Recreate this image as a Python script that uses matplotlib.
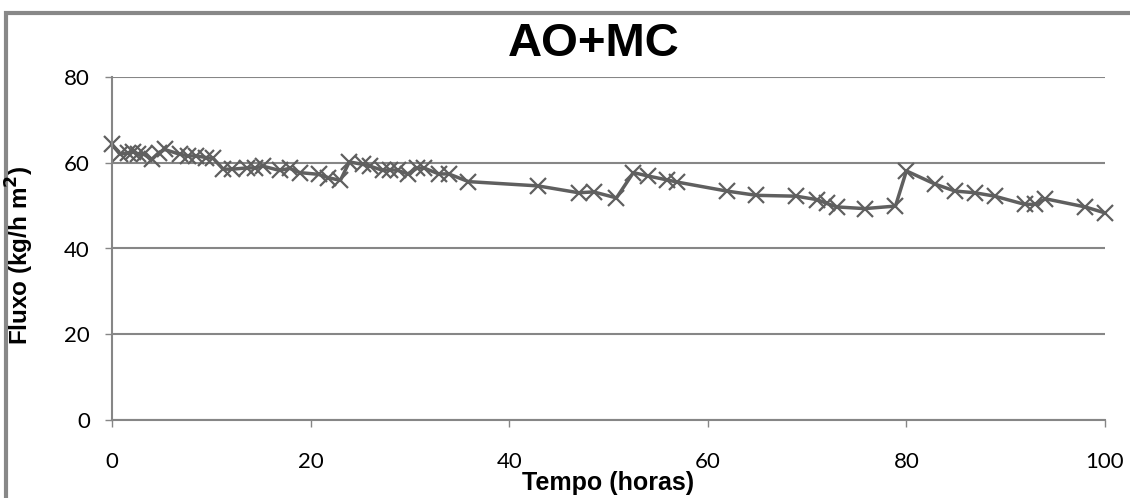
import numpy as np
import matplotlib
matplotlib.use('Agg')
import matplotlib.pyplot as plt
from matplotlib.patches import Rectangle

# tempo (horas) e fluxo (kg/h m2)
tempo = [0, 0.8, 1.6, 2.1, 2.6, 3.2, 4, 4.7, 5.3, 6.8,
         7.7, 8.5, 9.5, 10.2, 11.2, 12.1, 13.6, 14.4, 15.2, 16.9,
         17.9, 18.9, 20.8, 21.8, 23, 23.9, 25.3, 26, 27.3, 28,
         28.8, 29.8, 30.7, 31.4, 32.9, 33.9, 35.9, 42.9, 47, 48.5,
         50.8, 52.5, 54, 55.9, 56.9, 61.9, 64.9, 68.9, 71, 72,
         73, 75.8, 78.9, 80, 82.9, 84.9, 86.9, 88.9, 91.9, 93,
         94, 98, 100]
fluxo = [64.3, 62.0, 62.3, 62.6, 62.1, 62.0, 60.8, 62.3, 63.1, 62.0,
         61.6, 61.6, 61.2, 61.0, 58.5, 58.5, 58.8, 58.8, 59.2, 58.2,
         58.7, 57.7, 57.3, 56.5, 55.9, 60.2, 59.6, 59.2, 58.2, 58.4,
         58.2, 57.4, 58.7, 58.8, 57.4, 57.4, 55.6, 54.6, 53.0, 53.2,
         51.8, 57.7, 56.9, 56.0, 55.5, 53.4, 52.4, 52.2, 51.4, 50.5,
         49.7, 49.3, 49.9, 58.1, 55.0, 53.4, 53.0, 52.2, 50.3, 50.3,
         51.6, 49.7, 48.3]

xticks = [0, 20, 40, 60, 80, 100]
yticks = [0, 20, 40, 60, 80]

cinza = '#868686'

fig = plt.figure(figsize=(11.3, 4.98), dpi=100)
ax = fig.add_axes([112/1130, 1-420/498, (1105-112)/1130, (420-77)/498])

ax.plot(tempo, fluxo, color='#5f5f5f', lw=2.5, marker='x', ms=11, mew=1.6, clip_on=False)

ax.set_xlim(0, 100)
ax.set_ylim(0, 80)
ax.set_xticks(xticks)
ax.set_yticks(yticks)
ax.yaxis.grid(True, color=cinza, lw=1.5)
ax.set_axisbelow(True)
for s in ['top', 'right']:
    ax.spines[s].set_visible(False)
for s in ['left', 'bottom']:
    ax.spines[s].set_color(cinza)
    ax.spines[s].set_linewidth(1.5)
ax.tick_params(axis='x', direction='out', length=5, width=1, color=cinza, pad=18, labelsize=16)
ax.tick_params(axis='y', direction='out', length=5, width=1, color=cinza, pad=11, labelsize=16)
for lab in ax.get_xticklabels() + ax.get_yticklabels():
    lab.set_family('Lato')

fig.text(594/1130, 1-44/498, 'AO+MC', ha='center', va='center',
         fontsize=34, fontweight='bold', family='Liberation Sans')
fig.text(608/1130, 1-483/498, 'Tempo (horas)', ha='center', va='center',
         fontsize=18, fontweight='bold', family='Liberation Sans')
fig.text(20/1130, 1-255/498, 'Fluxo (kg/h m$\\mathbf{^2}$)', ha='center', va='center',
         rotation=90, fontsize=17.5, fontweight='bold', family='Liberation Sans')

# moldura do grafico
fig.patches.append(Rectangle((5.5/1130, -0.2), 1.2, 1.2 - 12.5/498,
                             transform=fig.transFigure, fill=False,
                             edgecolor='#888888', lw=3))

fig.savefig('out.png', dpi=100)
